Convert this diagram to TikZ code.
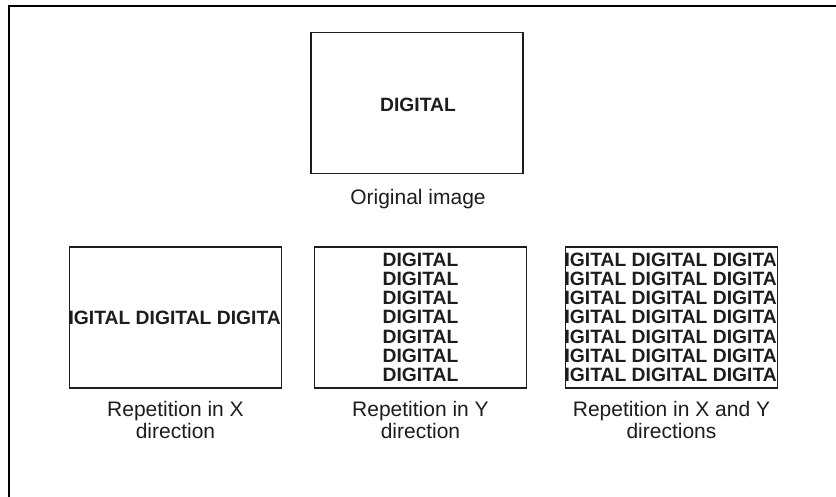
\documentclass[tikz,border=0pt]{standalone}
\usepackage{fontspec}
\setmainfont{Liberation Sans}
\definecolor{ink}{RGB}{30,28,29}
\begin{document}
\begin{tikzpicture}[x=1pt,y=-1pt,
  frame/.style={line width=2pt,black},
  imgarea/.style={minimum width=212pt,minimum height=141pt,inner sep=0pt,outer sep=0pt},
  border/.style={draw=ink,line width=1.8pt},
  word/.style={font=\bfseries\fontsize{19.3}{19.3}\selectfont,text=ink,inner sep=0pt},
  caption/.style={font=\fontsize{21}{22}\selectfont,text=ink,align=center,inner sep=0pt}]
\useasboundingbox (0,0) rectangle (836,496);
% outer frame (only top and left edges visible)
\coordinate (ftr) at (840,6);
\coordinate (ftl) at (9,6);
\coordinate (fbl) at (9,500);
\draw[frame] (ftr) -- (ftl) -- (fbl);

% original image
\node[imgarea,border] (orig) at (417,103) {};
\node[word,anchor=base] (origword) at (418,111.7) {DIGITAL};
\node[caption,anchor=base] (origcap) at (418,204) {Original image};

% repetition in X
\path node[imgarea] (bx) at (175.5,317.5) {};
\begin{scope}
  \clip (bx.north west) rectangle (bx.south east);
  \node[word,anchor=base west] (xrow) at (54.4,324.5) {DIGITAL DIGITAL DIGITAL};
\end{scope}
\draw[border] (bx.north west) rectangle (bx.south east);
\node[caption,anchor=base] (cx) at (175.5,438.5) {Repetition in X\\direction};

% repetition in Y
\path node[imgarea] (by) at (420.5,317.5) {};
\begin{scope}
  \clip (by.north west) rectangle (by.south east);
  \foreach \k in {0,...,6}
    \node[word,anchor=base] (yrow\k) at (420.5,266+19.3*\k) {DIGITAL};
\end{scope}
\draw[border] (by.north west) rectangle (by.south east);
\node[caption,anchor=base] (cy) at (420.5,438.5) {Repetition in Y\\direction};

% repetition in X and Y
\path node[imgarea] (bxy) at (671.5,317.5) {};
\begin{scope}
  \clip (bxy.north west) rectangle (bxy.south east);
  \foreach \k in {0,...,6}
    \node[word,anchor=base west] (xyrow\k) at (550.4,266+19.3*\k) {DIGITAL DIGITAL DIGITAL};
\end{scope}
\draw[border] (bxy.north west) rectangle (bxy.south east);
\node[caption,anchor=base] (cxy) at (671.5,438.5) {Repetition in X and Y\\directions};
\end{tikzpicture}
\end{document}
